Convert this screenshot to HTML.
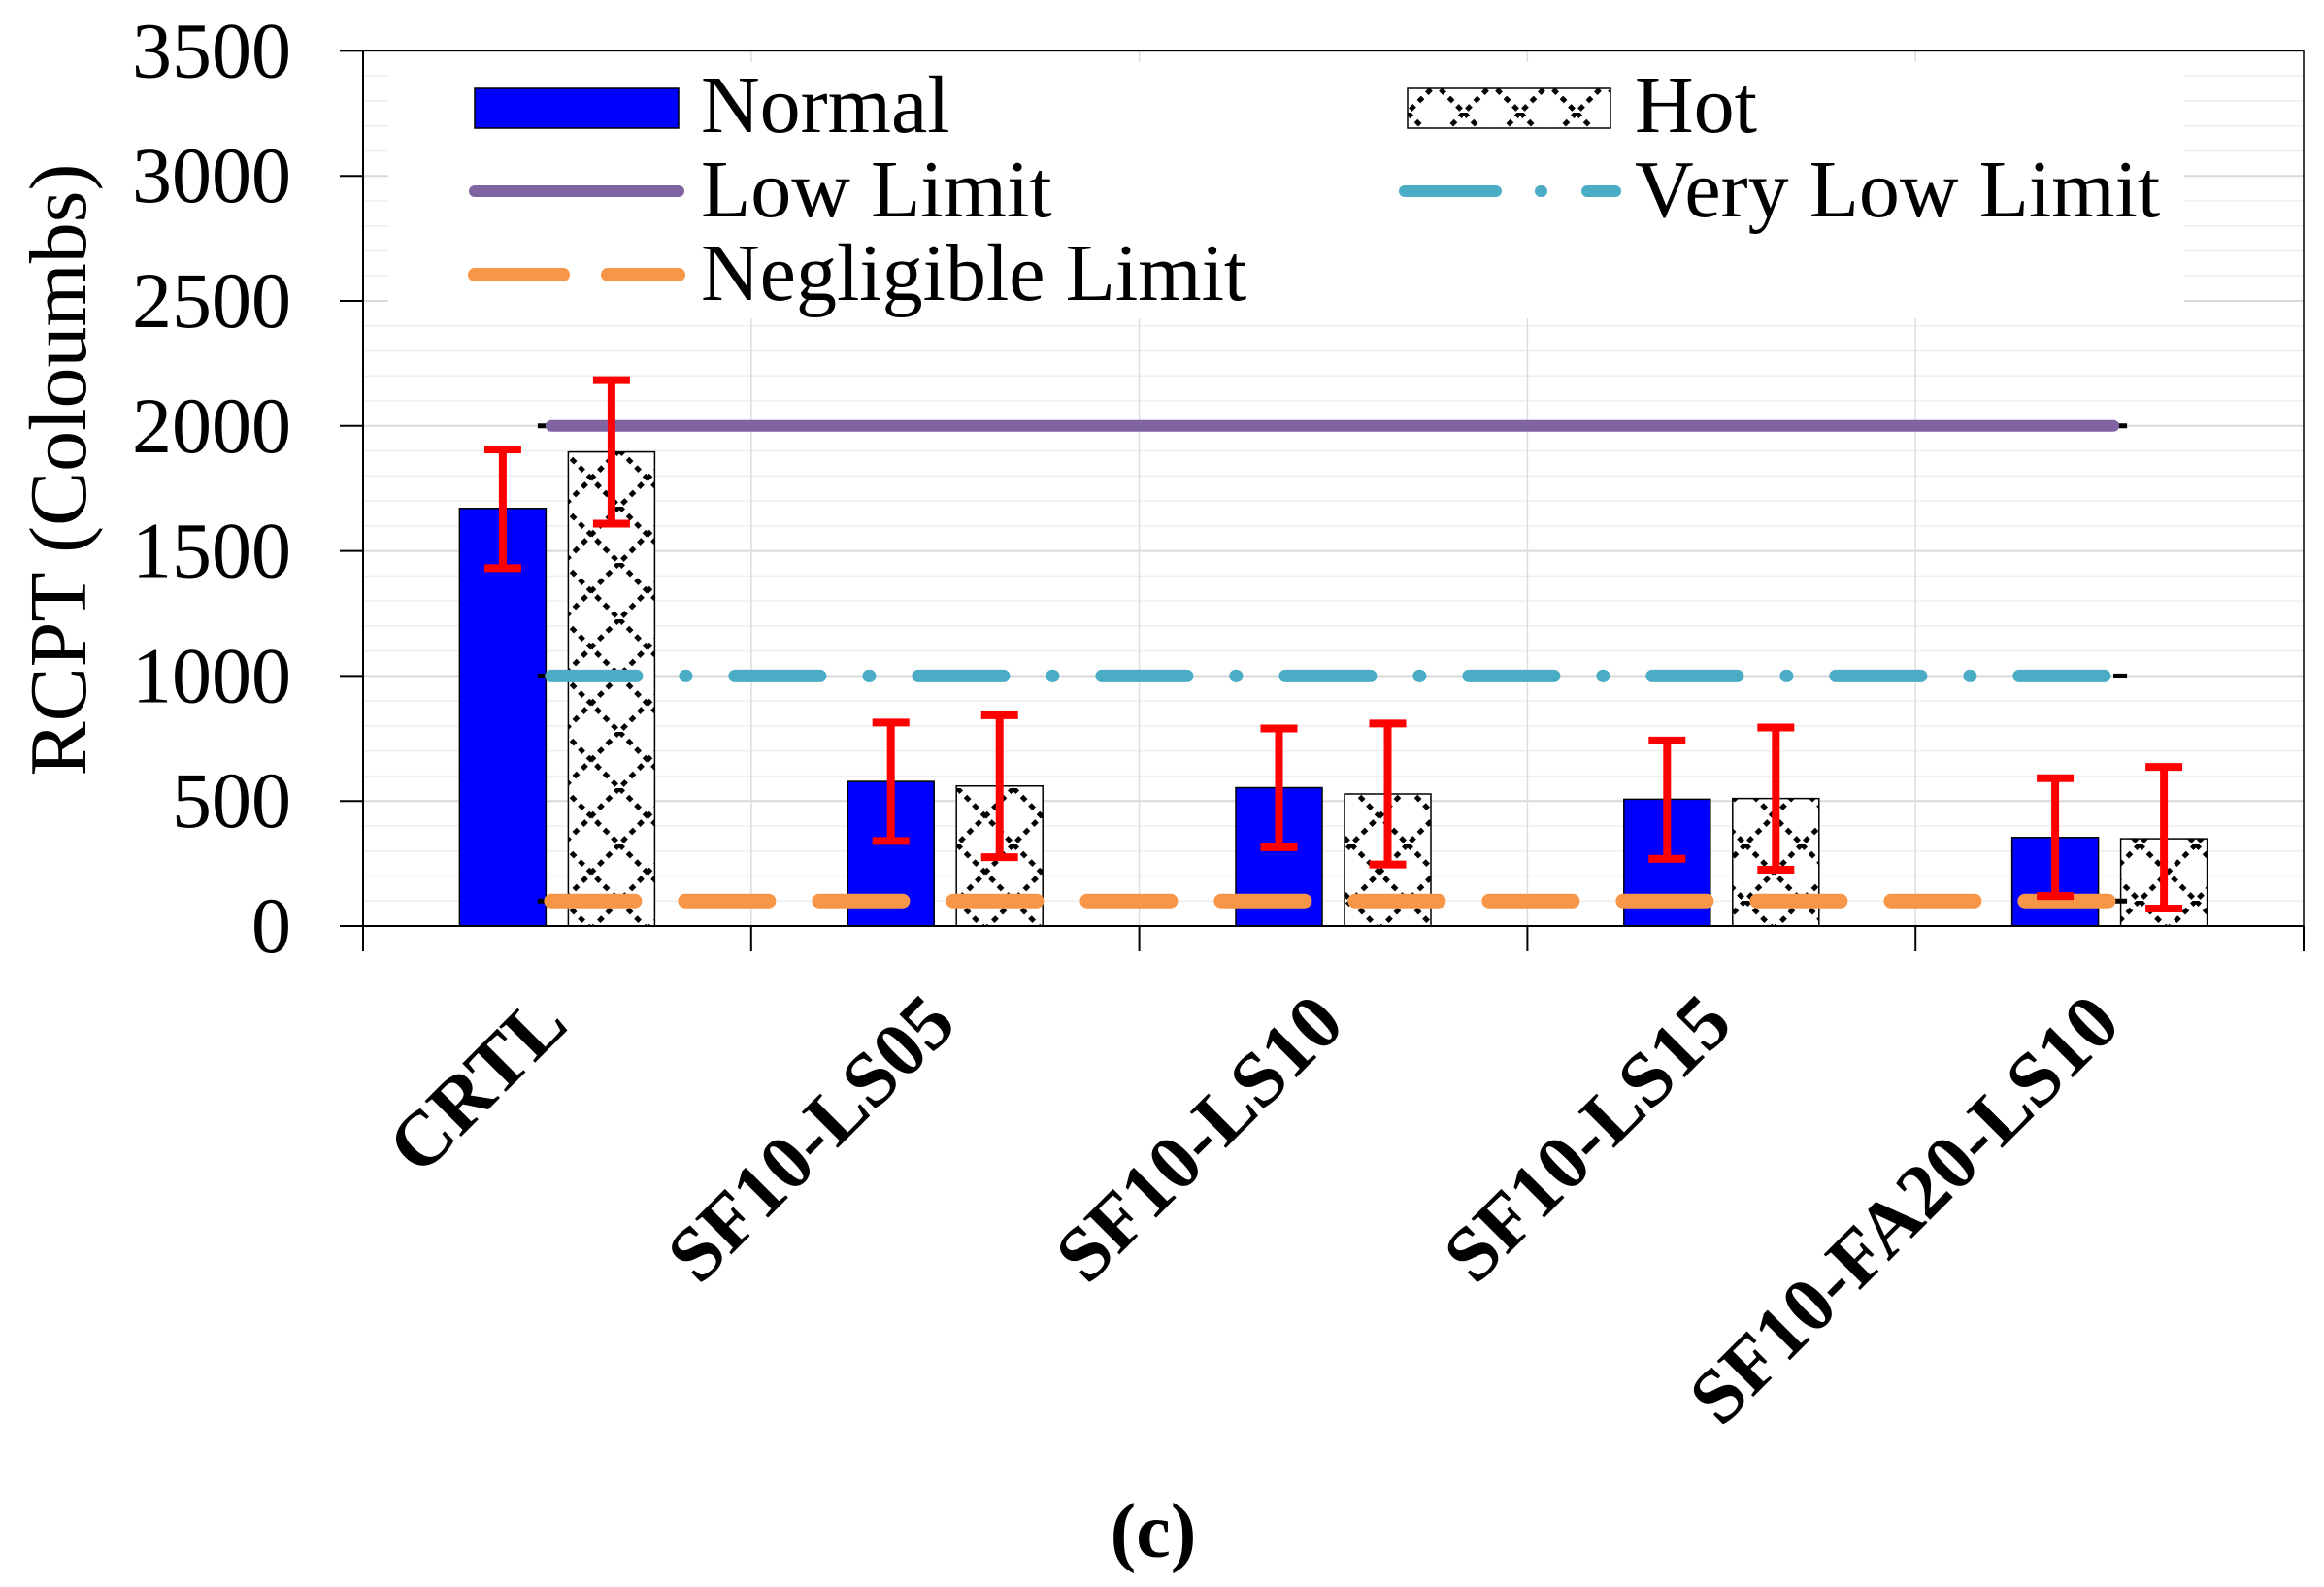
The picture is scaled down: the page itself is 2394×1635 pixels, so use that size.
<!DOCTYPE html>
<html><head><meta charset="utf-8"><style>
html,body{margin:0;padding:0;background:#fff;}
svg{display:block;font-family:"Liberation Serif",serif;}
</style></head><body>
<svg id="chart" width="2394" height="1635" viewBox="0 0 2394 1635" xmlns="http://www.w3.org/2000/svg">
<defs>
<pattern id="hatch" width="58" height="58" patternUnits="userSpaceOnUse">
<rect width="58" height="58" fill="#fff"/>
<path d="M0 0 L58 58 M58 0 L0 58" stroke="#000" stroke-width="5" stroke-dasharray="6 6"/>
</pattern>
</defs>
<g id="grid"></g>
<rect x="400" y="64" width="1850" height="264" fill="#fff"/>
<g id="bars"></g>
<g id="lines"></g>
<g id="errs"></g>
<g id="axes"></g>
<g id="legend">
<rect x="489" y="91" width="210" height="41" fill="#0000ff" stroke="#000" stroke-width="1.5"/>
<text x="722" y="136" font-size="84">Normal</text>
<rect x="1450" y="91" width="209" height="41" fill="url(#hatch)" stroke="#000" stroke-width="1.5"/>
<text x="1684" y="136" font-size="84">Hot</text>
<line x1="489" y1="197" x2="699" y2="197" stroke="#8064a2" stroke-width="12" stroke-linecap="round"/>
<text x="722" y="223" font-size="84">Low Limit</text>
<path d="M1447 197 H1541 M1587 197 H1588 M1635 197 H1664" stroke="#4bacc6" stroke-width="12" stroke-linecap="round"/>
<text x="1684" y="223" font-size="84">Very Low Limit</text>
<path d="M489 283 H580 M626 283 H699" stroke="#f79646" stroke-width="14" stroke-linecap="round"/>
<text x="722" y="309" font-size="84">Negligible Limit</text>
</g>
<text x="88" y="484" font-size="84" text-anchor="middle" transform="rotate(-90 88 484)">RCPT (Coloumbs)</text>
<text x="1188" y="1604" font-size="80" font-weight="bold" text-anchor="middle">(c)</text>
</svg>
<script>
const categories = ["CRTL","SF10-LS05","SF10-LS10","SF10-LS15","SF10-FA20-LS10"];
const normalValues = [1670,578,553,507,354];
const hotValues = [1896,560,528,510,349];
const normalErrHigh = [1906,814,790,742,591];
const normalErrLow = [1431,340,315,269,120];
const hotErrHigh = [2183,843,810,794,636];
const hotErrLow = [1609,275,246,225,70];
const yTicks = [0,500,1000,1500,2000,2500,3000,3500];
const lowLimit = 2000, veryLowLimit = 1000, negligibleLimit = 100;

const NS="http://www.w3.org/2000/svg";
const X0=374, X1=2373, Y0=954, YMAX=3500, YTOP=52.4;
const catW=(X1-X0)/categories.length;
function y(v){return Y0-(Y0-YTOP)*v/YMAX;}
function xc(i){return X0+catW*(i+0.5);}
function mk(tag,attrs,parent){const e=document.createElementNS(NS,tag);for(const k in attrs)e.setAttribute(k,attrs[k]);document.getElementById(parent).appendChild(e);return e;}

for(let v=100;v<=YMAX;v+=100){
  const g=mk('line',{x1:X0,x2:X1,y1:y(v),y2:y(v),stroke:v%500===0?'#d9d9d9':'#eeeeee','stroke-width':v%500===0?2:1.5},'grid');
  
  
}
for(let i=1;i<categories.length;i++){
  const g=mk('line',{x1:X0+catW*i,x2:X0+catW*i,y1:YTOP,y2:Y0,stroke:'#dddddd','stroke-width':1.5},'grid');
  
  
}
const bw=89, off=56;
categories.forEach((c,i)=>{
  const n=mk('rect',{x:xc(i)-off-bw/2,y:y(normalValues[i]),width:bw,height:Y0-y(normalValues[i]),fill:'#0000ff',stroke:'#000','stroke-width':1.5},'bars');
  
  
  const h=mk('rect',{x:xc(i)+off-bw/2,y:y(hotValues[i]),width:bw,height:Y0-y(hotValues[i]),fill:'url(#hatch)',stroke:'#000','stroke-width':1.5},'bars');
  
  
});
const lx1=xc(0)-6, lx2=xc(categories.length-1)+18;
function limitLine(v,color,w,dash,name){
  const b=mk('path',{d:`M${lx1-14} ${y(v)} H${lx1} M${lx2-14} ${y(v)} H${lx2}`,stroke:'#000','stroke-width':5},'lines');
  
  
  const l=mk('line',{x1:lx1,x2:lx2-14,y1:y(v),y2:y(v),stroke:color,'stroke-width':w,'stroke-linecap':'round','stroke-dasharray':dash,fill:'none'},'lines');
  
  
}
limitLine(lowLimit,'#8064a2',12,'none','low-limit-line');
limitLine(veryLowLimit,'#4bacc6',13,'88 50 1 50','very-low-limit-line');
limitLine(negligibleLimit,'#f79646',15,'86 52','negligible-limit-line');
function err(x,hi,lo,name){
  const s=mk('path',{d:`M${x} ${y(hi)} V${y(lo)} M${x-19} ${y(hi)} H${x+19} M${x-19} ${y(lo)} H${x+19}`,stroke:'#ff0000','stroke-width':8,fill:'none'},'errs');
  
  
}
categories.forEach((c,i)=>{
  err(xc(i)-off,normalErrHigh[i],normalErrLow[i],'error-bar-normal-'+c.toLowerCase());
  err(xc(i)+off,hotErrHigh[i],hotErrLow[i],'error-bar-hot-'+c.toLowerCase());
});
const fr=mk('path',{d:`M${X0} ${YTOP} H${X1} V${Y0}`,stroke:'#000','stroke-width':1.5,fill:'none'},'axes');


const ya=mk('line',{x1:X0,x2:X0,y1:YTOP,y2:Y0,stroke:'#000','stroke-width':2},'axes');


const xa=mk('line',{x1:X0-24,x2:X1,y1:Y0,y2:Y0,stroke:'#000','stroke-width':2},'axes');


yTicks.forEach(v=>{
  const t=mk('line',{x1:X0-24,x2:X0,y1:y(v),y2:y(v),stroke:'#000','stroke-width':2},'axes');
  
  
  const l=mk('text',{x:300,y:y(v)+27,'font-size':82,'text-anchor':'end'},'axes');
  l.textContent=v;
  
  
});
for(let i=0;i<=categories.length;i++){
  const t=mk('line',{x1:X0+catW*i,x2:X0+catW*i,y1:Y0,y2:Y0+26,stroke:'#000','stroke-width':2},'axes');
  
  
}
categories.forEach((c,i)=>{
  const ex=xc(i)+14, ey=1058;
  const l=mk('text',{x:ex,y:ey,'font-size':80,'font-weight':'bold','text-anchor':'end',transform:`rotate(-45 ${ex} ${ey})`},'axes');
  l.textContent=c;
  
  
});
</script>
</body></html>
